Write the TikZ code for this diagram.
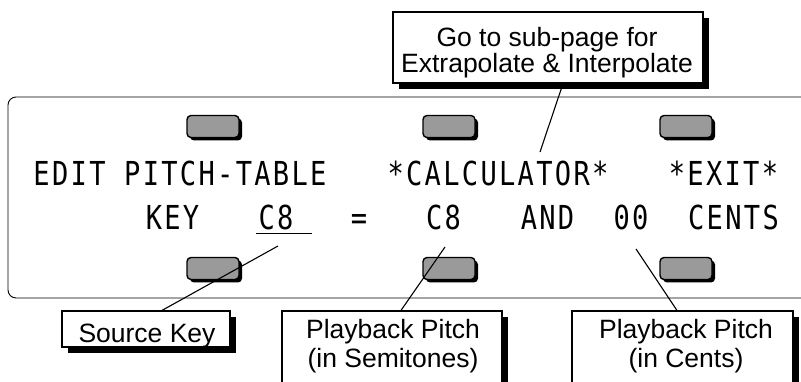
\documentclass[tikz,border=0pt]{standalone}
\usepackage{fontspec}
\setmainfont{Liberation Sans}
\newfontfamily\lcdfont[FakeStretch=0.82,LetterSpace=7]{DejaVu Sans Mono}
\usetikzlibrary{shadows}
\definecolor{btngray}{HTML}{9A9A9A}
\begin{document}
\begin{tikzpicture}[x=1pt,y=-1pt,
  panel/.style={draw=black, line width=0.9pt, rounded corners=8pt},
  btn/.style={draw=black, line width=1.4pt, fill=btngray, rounded corners=4pt,
    minimum width=52pt, minimum height=22pt, inner sep=0pt,
    drop shadow={shadow xshift=3pt, shadow yshift=-3pt, fill=black, opacity=1}},
  lcd/.style={font=\lcdfont\fontsize{33}{33}\selectfont, inner sep=0pt, anchor=base, text=black},
  callout/.style={draw=black, line width=1.2pt, fill=white, inner sep=0pt,
    drop shadow={shadow xshift=6pt, shadow yshift=-6pt, fill=black, opacity=1}},
  calltext/.style={font=\fontsize{26.5}{27}\selectfont, inner sep=0pt, anchor=base},
  leader/.style={draw=black, line width=1.1pt}]
\useasboundingbox (0,0) rectangle (801,382);
\clip (0,0) rectangle (801,382);

% display panel
\draw[panel] (8,97) rectangle (840,298);

% soft buttons
\node[btn] (bt1) at (213,126.5) {};
\node[btn] (bt2) at (449,126.5) {};
\node[btn] (bt3) at (686,126.5) {};
\node[btn] (bb1) at (213,268.5) {};
\node[btn] (bb2) at (449,268.5) {};
\node[btn] (bb3) at (686,268.5) {};

% LCD text, line 1
\node[lcd] (edit) at (180,186) {EDIT PITCH-TABLE};
\node[lcd] (calc) at (498,186) {*CALCULATOR*};
\node[lcd] (exit) at (723.5,186) {*EXIT*};
% LCD text, line 2
\node[lcd] (key) at (172.5,230) {KEY};
\node[lcd] (srcc) at (276,230) {C8};
\node[lcd] (eq) at (359,230) {=};
\node[lcd] (semi) at (443.5,230) {C8};
\node[lcd] (and) at (547.5,230) {AND};
\node[lcd] (cents) at (631,230) {00};
\node[lcd] (cword) at (733.5,230) {CENTS};
\draw[line width=1.5pt] (256,233.5) -- (312,233.5);

% leader end points
\coordinate (calcpt) at (540,152);
\coordinate (keypt) at (278,246);
\coordinate (semipt) at (445,247);
\coordinate (centpt) at (636,249);

% callout boxes
\node[callout, minimum width=310pt, minimum height=71pt] (goto) at (548,47.5) {};
\node[calltext] at (547,47) {Go to sub-page for};
\node[calltext] at (547,73) {Extrapolate \& Interpolate};

\node[callout, minimum width=168pt, minimum height=36pt] (srckey) at (146,329) {};
\node[calltext] at (147,342) {Source Key};

\node[callout, minimum width=220pt, minimum height=90pt] (semibox) at (392,356) {};
\node[calltext] at (393,338) {Playback Pitch};
\node[calltext] at (393,367) {(in Semitones)};

\node[callout, minimum width=221pt, minimum height=90pt] (centbox) at (682.5,356) {};
\node[calltext] at (686,338) {Playback Pitch};
\node[calltext] at (686,367) {(in Cents)};

% leaders
\draw[leader] ([xshift=15pt]goto.south) -- (calcpt);
\draw[leader] ([xshift=16pt]srckey.north) -- (keypt);
\draw[leader] ([xshift=9pt]semibox.north) -- (semipt);
\draw[leader] ([xshift=-5.5pt]centbox.north) -- (centpt);
\end{tikzpicture}
\end{document}
